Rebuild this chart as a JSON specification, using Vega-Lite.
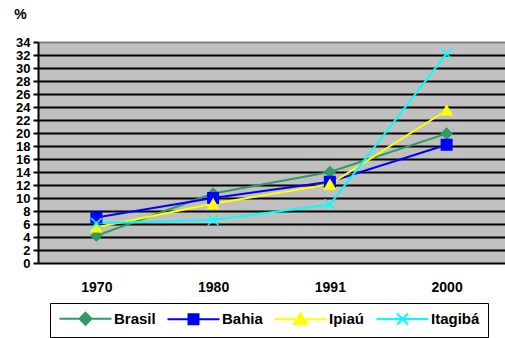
{
  "$schema": "https://vega.github.io/schema/vega-lite/v6.json",
  "width": 467,
  "height": 221,
  "autosize": {"type": "none"},
  "padding": {"left": 38, "top": 42, "right": 0, "bottom": 75},
  "background": "white",
  "config": {
    "view": {"fill": "#C0C0C0", "stroke": null},
    "font": "Liberation Sans"
  },
  "data": {
    "values": [
      {"year": "1970", "series": "Brasil", "value": 4.2},
      {"year": "1980", "series": "Brasil", "value": 10.7},
      {"year": "1991", "series": "Brasil", "value": 14.0},
      {"year": "2000", "series": "Brasil", "value": 19.9},
      {"year": "1970", "series": "Bahia", "value": 7.0},
      {"year": "1980", "series": "Bahia", "value": 10.0},
      {"year": "1991", "series": "Bahia", "value": 12.5},
      {"year": "2000", "series": "Bahia", "value": 18.2},
      {"year": "1970", "series": "Ipiaú", "value": 5.5},
      {"year": "1980", "series": "Ipiaú", "value": 9.1},
      {"year": "1991", "series": "Ipiaú", "value": 12.1},
      {"year": "2000", "series": "Ipiaú", "value": 23.5},
      {"year": "1970", "series": "Itagibá", "value": 6.1},
      {"year": "1980", "series": "Itagibá", "value": 6.6},
      {"year": "1991", "series": "Itagibá", "value": 9.0},
      {"year": "2000", "series": "Itagibá", "value": 32.2}
    ]
  },
  "encoding": {
    "x": {
      "field": "year", "type": "ordinal",
      "scale": {"type": "point", "padding": 0.5},
      "axis": {
        "title": null, "labelAngle": 0, "labelFontSize": 14, "labelFontWeight": "bold",
        "labelColor": "black", "ticks": false, "domain": false, "labelPadding": 17, "grid": false
      }
    },
    "y": {
      "field": "value", "type": "quantitative",
      "scale": {"domain": [0, 34], "nice": false},
      "axis": {
        "title": "%", "titleAngle": 0, "titleAlign": "center", "titleBaseline": "alphabetic",
        "titleX": -18, "titleY": -24, "titleFontSize": 14, "titleFontWeight": "bold", "titleColor": "black",
        "values": [0, 2, 4, 6, 8, 10, 12, 14, 16, 18, 20, 22, 24, 26, 28, 30, 32, 34],
        "labelFontSize": 13, "labelFontWeight": "bold", "labelColor": "black", "labelPadding": 3,
        "labelOverlap": false, "labelBound": false, "labelFlush": false,
        "tickSize": 5, "tickColor": "black", "tickWidth": 2,
        "domainColor": "black", "domainWidth": 2,
        "grid": true, "gridWidth": 2, "gridOpacity": 1,
        "gridColor": {"condition": {"test": "datum.value == 34", "value": "#808080"}, "value": "black"}
      }
    }
  },
  "layer": [
    {
      "mark": {"type": "line", "strokeWidth": 2},
      "encoding": {
        "color": {
          "field": "series", "type": "nominal",
          "scale": {"domain": ["Brasil", "Bahia", "Ipiaú", "Itagibá"], "range": ["#339966", "#0000FF", "#FFFF00", "#00FFFF"]},
          "legend": null
        }
      }
    },
    {
      "mark": {"type": "point", "filled": true, "size": 110, "strokeWidth": 1.5, "opacity": 1},
      "encoding": {
        "fill": {
          "field": "series", "type": "nominal",
          "scale": {"domain": ["Brasil", "Bahia", "Ipiaú", "Itagibá"], "range": ["#339966", "#0000FF", "#FFFF00", "#00FFFF"]},
          "legend": null
        },
        "stroke": {
          "field": "series", "type": "nominal",
          "scale": {"domain": ["Brasil", "Bahia", "Ipiaú", "Itagibá"], "range": ["#339966", "#0000FF", "#FFFF00", "#00FFFF"]},
          "legend": null
        },
        "shape": {
          "field": "series", "type": "nominal",
          "scale": {"domain": ["Brasil", "Bahia", "Ipiaú", "Itagibá"], "range": ["diamond", "square", "triangle-up", "M-1,-1L1,1M-1,1L1,-1"]},
          "legend": null
        }
      }
    },
    {
      "mark": {"type": "point", "filled": true, "size": 100, "opacity": 0, "strokeWidth": 2},
      "encoding": {
        "fill": {
          "field": "series", "type": "nominal",
          "scale": {"domain": ["Brasil", "Bahia", "Ipiaú", "Itagibá"], "range": ["#339966", "#0000FF", "#FFFF00", "#00FFFF"]},
          "legend": {"title": null}
        },
        "stroke": {
          "field": "series", "type": "nominal",
          "scale": {"domain": ["Brasil", "Bahia", "Ipiaú", "Itagibá"], "range": ["#339966", "#0000FF", "#FFFF00", "#00FFFF"]},
          "legend": {"title": null}
        },
        "shape": {
          "field": "series", "type": "nominal",
          "scale": {
            "domain": ["Brasil", "Bahia", "Ipiaú", "Itagibá"],
            "range": [
              "M-5.2,0L5.2,0M0,-1.2L1.2,0L0,1.2L-1.2,0Z",
              "M-5.2,0L5.2,0M-1,-1L1,-1L1,1L-1,1Z",
              "M-5.2,0L5.2,0M0,-1.2L1.3,1L-1.3,1Z",
              "M-5.2,0L5.2,0M-1.1,-1.1L1.1,1.1M-1.1,1.1L1.1,-1.1"
            ]
          },
          "legend": {
            "title": null, "orient": "none", "legendX": 12, "legendY": 261,
            "direction": "horizontal", "columns": 4, "columnPadding": 7, "padding": 8,
            "strokeColor": "black", "fillColor": "white",
            "labelFont": "Liberation Sans", "labelFontSize": 15, "labelFontWeight": "bold", "labelColor": "black",
            "symbolSize": 100, "symbolStrokeWidth": 2, "symbolOffset": 20, "labelOffset": 21, "symbolOpacity": 1,
            "encode": {
              "legend": {"update": {"strokeWidth": {"value": 2}}}
            }
          }
        }
      }
    }
  ],
  "resolve": {"scale": {"shape": "independent", "fill": "independent", "stroke": "independent"}}
}
